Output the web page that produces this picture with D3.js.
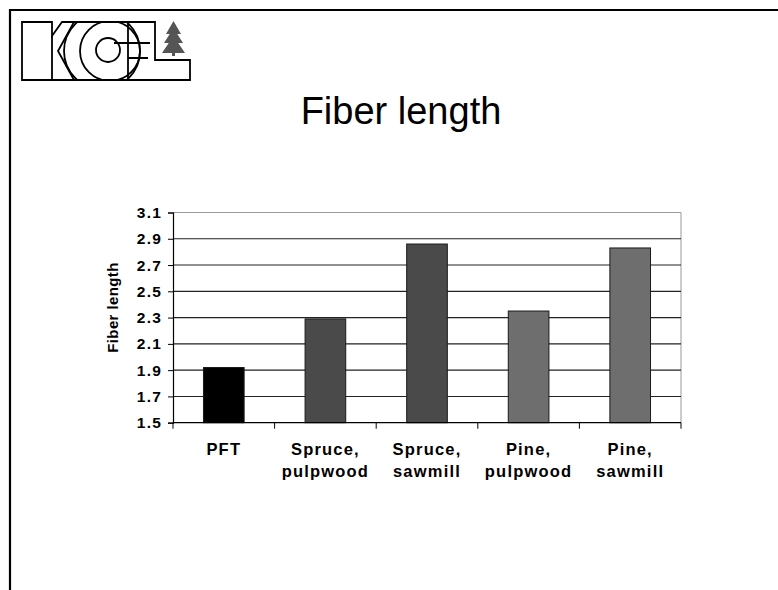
<!DOCTYPE html>
<html>
<head>
<meta charset="utf-8">
<script src="https://cdn.jsdelivr.net/npm/d3@7"></script>
<style>
  html, body { margin: 0; padding: 0; background: #fff; }
  svg { display: block; }
  text { font-family: Arial, "Liberation Sans", Helvetica, sans-serif; }
</style>
</head>
<body>
<svg id="chart" width="778" height="590"></svg>
<script>
// Mean fiber length by raw material
const categories = ["PFT", "Spruce, pulpwood", "Spruce, sawmill", "Pine, pulpwood", "Pine, sawmill"];
const categoryLines = [["PFT"], ["Spruce,", "pulpwood"], ["Spruce,", "sawmill"], ["Pine,", "pulpwood"], ["Pine,", "sawmill"]];
const fiberLength = [1.92, 2.29, 2.86, 2.35, 2.83];
const barColors = ["#000000", "#4a4a4a", "#4a4a4a", "#6e6e6e", "#6e6e6e"];
const yTicks = [1.5, 1.7, 1.9, 2.1, 2.3, 2.5, 2.7, 2.9, 3.1];

const svg = d3.select("#chart");

// slide frame (top and left rules)
svg.append("line").attr("x1", 10).attr("x2", 778).attr("y1", 10).attr("y2", 10)
  .attr("stroke", "#000").attr("stroke-width", 2.2);
svg.append("line").attr("x1", 10).attr("x2", 10).attr("y1", 9).attr("y2", 590)
  .attr("stroke", "#000").attr("stroke-width", 2.2);

// KCL logo
const logo = svg.append("g").attr("fill", "none").attr("stroke", "#000").attr("stroke-width", 1.8);
const outline = "M22,22 L52,22 L52,36 L62,22 L155,22 L155,60 L190,60 L190,80 L22,80 Z";
svg.append("clipPath").attr("id", "logoClip").append("path").attr("d", outline);
logo.append("path").attr("d", outline).attr("fill", "#fff");
const inner = logo.append("g").attr("clip-path", "url(#logoClip)");
inner.append("path").attr("d", "M52,80 L52,66 M52,36 L52,66");
inner.append("path").attr("d", "M74,22 L58,51 L74,80");
inner.append("circle").attr("cx", 102).attr("cy", 51).attr("r", 38);
inner.append("circle").attr("cx", 110).attr("cy", 51).attr("r", 30);
inner.append("circle").attr("cx", 108).attr("cy", 50).attr("r", 12);
inner.append("line").attr("x1", 128).attr("x2", 128).attr("y1", 22).attr("y2", 80);
inner.append("line").attr("x1", 114).attr("x2", 150).attr("y1", 43).attr("y2", 43);
inner.append("line").attr("x1", 128).attr("x2", 148).attr("y1", 58).attr("y2", 58);
// spruce tree mark
const tree = svg.append("g").attr("fill", "#555");
tree.append("path").attr("d", "M173.5,21 L166,34 L181,34 Z");
tree.append("path").attr("d", "M173.5,28 L164,43 L183,43 Z");
tree.append("path").attr("d", "M173.5,36 L162,53 L185,53 Z");
tree.append("rect").attr("x", 172).attr("y", 53).attr("width", 3).attr("height", 3);

// title
svg.append("text").attr("x", 401).attr("y", 124).attr("text-anchor", "middle")
  .attr("font-size", 38).attr("fill", "#000").text("Fiber length");

// plot area
const plotLeft = 173, plotRight = 681, plotTop = 212.5, plotBottom = 422.7;
const x = d3.scaleBand().domain(categories).range([plotLeft, plotRight]).paddingInner(0.6).paddingOuter(0.3);
const y = d3.scaleLinear().domain([1.5, 3.1]).range([plotBottom, plotTop]);

// plot border (top/right)
svg.append("path").attr("d", `M${plotLeft},${plotTop} H${plotRight} V${plotBottom}`)
  .attr("fill", "none").attr("stroke", "#999").attr("stroke-width", 1);

// gridlines
svg.append("g").selectAll("line").data(yTicks.filter(v => v > 1.5 && v < 3.1)).join("line")
  .attr("x1", plotLeft).attr("x2", plotRight)
  .attr("y1", d => y(d)).attr("y2", d => y(d))
  .attr("stroke", "#222").attr("stroke-width", 1.1);

// bars
svg.append("g").selectAll("rect").data(fiberLength).join("rect")
  .attr("x", (d, i) => x(categories[i]))
  .attr("y", d => y(d))
  .attr("width", x.bandwidth())
  .attr("height", d => y(1.5) - y(d))
  .attr("fill", (d, i) => barColors[i])
  .attr("stroke", "#1a1a1a").attr("stroke-width", 1);

// y axis
const yAxis = svg.append("g").attr("transform", `translate(${plotLeft},0)`)
  .call(d3.axisLeft(y).tickValues(yTicks).tickFormat(d3.format(".1f")).tickSize(5).tickPadding(7));
yAxis.select(".domain").attr("stroke", "#000").attr("stroke-width", 1.2);
yAxis.selectAll(".tick line").attr("stroke", "#000");
yAxis.selectAll(".tick text").attr("font-size", 15.5).attr("font-weight", "bold")
  .attr("letter-spacing", 1.2).attr("dx", 1)
  .attr("fill", "#000").attr("font-family", "Arial, 'Liberation Sans', sans-serif");

// x axis with ticks at category boundaries
const step = x.step();
const boundaries = d3.range(categories.length + 1).map(i => plotLeft + i * step);
svg.append("line").attr("x1", plotLeft).attr("x2", plotRight).attr("y1", plotBottom).attr("y2", plotBottom)
  .attr("stroke", "#000").attr("stroke-width", 1.2);
svg.append("g").selectAll("line").data(boundaries).join("line")
  .attr("x1", d => d).attr("x2", d => d).attr("y1", plotBottom).attr("y2", plotBottom + 6)
  .attr("stroke", "#000");

// category labels
const labels = svg.append("g").attr("font-size", 16.5).attr("font-weight", "bold")
  .attr("letter-spacing", 1.2).attr("text-anchor", "middle").attr("fill", "#000");
categoryLines.forEach((lines, i) => {
  const cx = x(categories[i]) + x.bandwidth() / 2;
  const t = labels.append("text").attr("x", cx).attr("y", 455);
  lines.forEach((ln, j) => t.append("tspan").attr("x", cx).attr("dy", j ? 22 : 0).text(ln));
});

// y axis title
svg.append("text").attr("transform", "translate(118,307.5) rotate(-90)")
  .attr("text-anchor", "middle").attr("font-size", 15).attr("font-weight", "bold")
  .attr("letter-spacing", 0.4).attr("fill", "#000").text("Fiber length");
</script>
</body>
</html>
